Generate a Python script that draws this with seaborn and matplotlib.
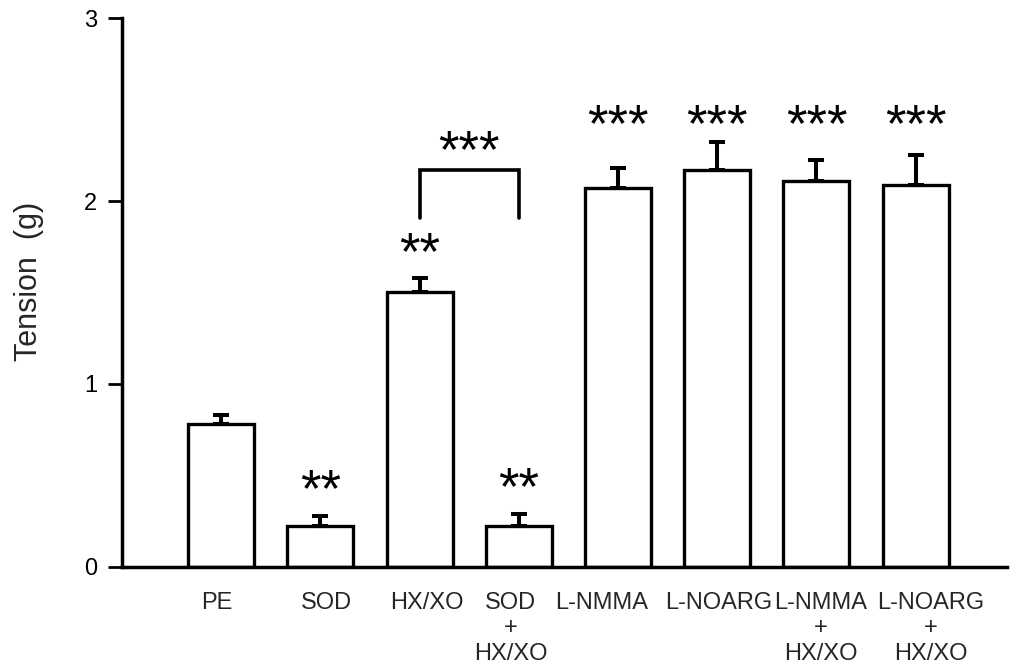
import matplotlib
matplotlib.use("Agg")
import matplotlib.pyplot as plt
import matplotlib.transforms as mtransforms
import seaborn as sns
import pandas as pd

categories = ["PE", "SOD", "HX/XO", "SOD\n+\nHX/XO", "L-NMMA", "L-NOARG",
              "L-NMMA\n+\nHX/XO", "L-NOARG\n+\nHX/XO"]
tension = [0.78, 0.22, 1.50, 0.22, 2.07, 2.17, 2.11, 2.09]
sem = [0.05, 0.06, 0.08, 0.07, 0.11, 0.155, 0.115, 0.16]
stars = ["", "**", "**", "**", "***", "***", "***", "***"]
bracket_stars = "***"
yticks = [0, 1, 2, 3]

sns.set_style("white")
plt.rcParams["font.family"] = ["Liberation Sans", "DejaVu Sans"]

df = pd.DataFrame({"group": categories, "tension": tension})

fig = plt.figure(figsize=(10.1, 6.72), dpi=100)
ax = fig.add_axes([0.1208, 0.1567, 0.8762, 0.8161])

sns.barplot(data=df, x="group", y="tension", order=categories, color="white",
            edgecolor="black", linewidth=2.4, width=0.665, errorbar=None, ax=ax,
            zorder=2)
for p in ax.patches:
    p.set_facecolor("white")

xpos = list(range(len(categories)))
ax.errorbar(xpos, tension, yerr=[[0] * len(sem), sem], fmt="none", ecolor="black",
            elinewidth=2.9, capsize=6, capthick=2.9, zorder=3)

# significance stars
star_fs = 38
for i, s in enumerate(stars):
    if not s:
        continue
    if i >= 4:
        y = 2.33
    else:
        y = tension[i] + sem[i] + 0.05
    ax.text(i, y, s, ha="center", va="baseline", fontsize=star_fs, color="black")

# bracket between HX/XO and SOD+HX/XO
ax.plot([2, 2, 3, 3], [1.91, 2.17, 2.17, 1.91], color="black", lw=2.6,
        solid_joinstyle="miter", zorder=3)
ax.text(2.5, 2.185, bracket_stars, ha="center", va="baseline", fontsize=star_fs,
        color="black")

ax.set_xlim(-1, 7.92)
ax.set_ylim(0, 3)
ax.set_yticks(yticks)
ax.set_yticklabels([str(t) for t in yticks])
ax.set_xlabel("")
ax.set_ylabel("Tension  (g)", fontsize=22)
ax.yaxis.set_label_coords(-0.088, 0.52)

for side in ["top", "right"]:
    ax.spines[side].set_visible(False)
for side in ["left", "bottom"]:
    ax.spines[side].set_linewidth(2.5)
    ax.spines[side].set_color("black")

ax.tick_params(axis="y", direction="out", length=10, width=2.0, pad=8,
               labelsize=17, left=True, colors="black")
ax.tick_params(axis="x", length=0, pad=18, labelsize=17)

# hand-set label shifts as in the original typeset figure (pixels)
label_shift_px = [-4, 6, 7, -8, -16, 1, 4, 15]
for lab, dx in zip(ax.get_xticklabels(), label_shift_px):
    lab.set_linespacing(1.22)
    lab.set_verticalalignment("top")
    lab.set_transform(lab.get_transform() +
                      mtransforms.ScaledTranslation(dx / 100, 0, fig.dpi_scale_trans))

fig.savefig("out.png", dpi=100, facecolor="white")
